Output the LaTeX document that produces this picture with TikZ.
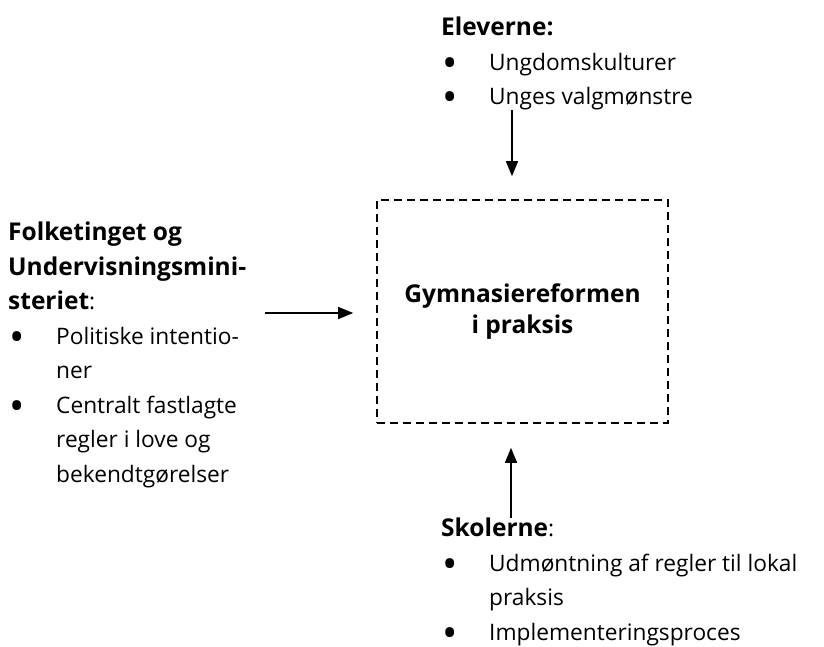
\documentclass[tikz,border=0pt]{standalone}
\usepackage{fontspec}
\setmainfont{Open Sans}
\usetikzlibrary{arrows.meta}

\newcommand{\blt}{\makebox[48pt][l]{\hspace{1pt}\raisebox{-7pt}[0pt][0pt]{\scalebox{1.8}{\textbullet}}}}
\newcommand{\ind}{\hspace*{48pt}}
\newcommand{\hd}[1]{{\fontsize{24.5}{34.5}\selectfont\bfseries #1}}

\begin{document}
\begin{tikzpicture}[x=1pt, y=1pt,
    block/.style ={anchor=north west, align=left, inner sep=0pt,
      font=\fontsize{22.7}{34.5}\selectfont},
    center/.style ={draw, dashed, line width=1.6pt, dash pattern=on 8pt off 5pt,
      minimum width=291pt, minimum height=223pt, align=center,
      font=\fontsize{24.5}{30.5}\selectfont\bfseries},
    arr/.style ={line width=1.4pt, -{Triangle[length=15pt, width=12pt]}}]
   \useasboundingbox (0,0) rectangle (824,-646);
   % the reform in the middle
   \node[center] (reform) at (522.5,-311.5) {Gymnasiereformen\\i praksis};
   % the three actors
   \node[block] (elev) at (441,-17) {\hd{Eleverne:}\\
      \blt Ungdomskulturer\\
      \blt Unges valgmønstre};
   \node[block] (folk) at (8,-222) {\hd{Folketinget og}\\
      \hd{Undervisningsmini-}\\
      \hd{steriet}:\\
      \blt Politiske intentio-\\
      \ind ner\\
      \blt Centralt fastlagte\\
      \ind regler i love og\\
      \ind bekendtgørelser};
   \node[block] (skole) at (441,-518) {\hd{Skolerne}:\\
      \blt Udmøntning af regler til lokal\\
      \ind praksis\\
      \blt Implementeringsproces};
   \coordinate (inL) at (265,-313);
   \draw[arr] (elev.south -| 512,0) -- ([xshift=-10.5pt, yshift=23pt]reform.north);
   \draw[arr, shorten >=23pt] (inL) -- (reform.west |- inL);
   \draw[arr] (skole.north -| 511,0) -- ([xshift=-11.5pt, yshift=-24pt]reform.south);
 \end{tikzpicture}
\end{document}
